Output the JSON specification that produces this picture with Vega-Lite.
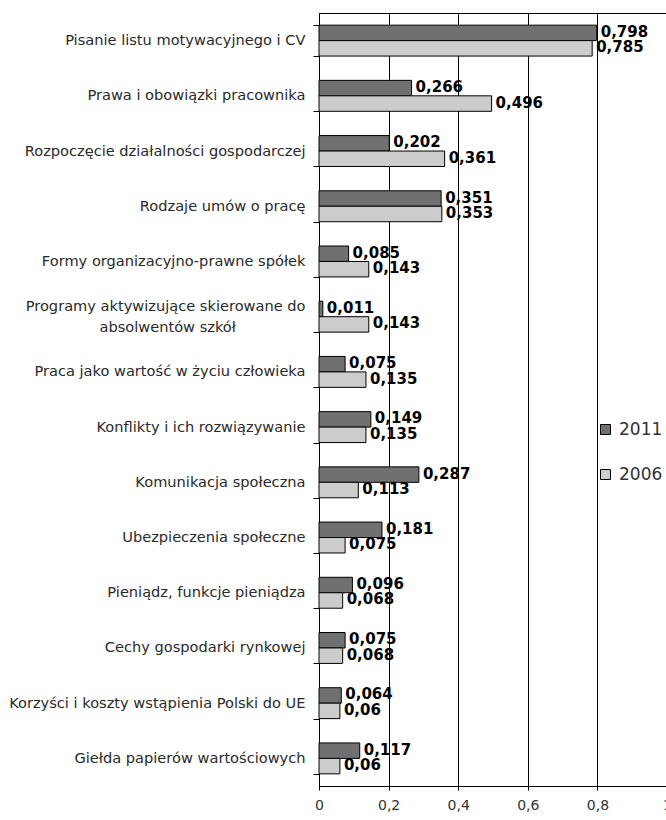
{
  "$schema": "https://vega.github.io/schema/vega-lite/v6.json",
  "autosize": {"type": "none"},
  "padding": {"left": 319, "top": 13, "right": 0, "bottom": 34},
  "width": 348,
  "height": 773,
  "background": "white",
  "data": {
    "values": [
      {"temat": "Pisanie listu motywacyjnego i CV", "rok": "2011", "wartosc": 0.798},
      {"temat": "Pisanie listu motywacyjnego i CV", "rok": "2006", "wartosc": 0.785},
      {"temat": "Prawa i obowiązki pracownika", "rok": "2011", "wartosc": 0.266},
      {"temat": "Prawa i obowiązki pracownika", "rok": "2006", "wartosc": 0.496},
      {"temat": "Rozpoczęcie działalności gospodarczej", "rok": "2011", "wartosc": 0.202},
      {"temat": "Rozpoczęcie działalności gospodarczej", "rok": "2006", "wartosc": 0.361},
      {"temat": "Rodzaje umów o pracę", "rok": "2011", "wartosc": 0.351},
      {"temat": "Rodzaje umów o pracę", "rok": "2006", "wartosc": 0.353},
      {"temat": "Formy organizacyjno-prawne spółek", "rok": "2011", "wartosc": 0.085},
      {"temat": "Formy organizacyjno-prawne spółek", "rok": "2006", "wartosc": 0.143},
      {"temat": "Programy aktywizujące skierowane do absolwentów szkół", "rok": "2011", "wartosc": 0.011},
      {"temat": "Programy aktywizujące skierowane do absolwentów szkół", "rok": "2006", "wartosc": 0.143},
      {"temat": "Praca jako wartość w życiu człowieka", "rok": "2011", "wartosc": 0.075},
      {"temat": "Praca jako wartość w życiu człowieka", "rok": "2006", "wartosc": 0.135},
      {"temat": "Konflikty i ich rozwiązywanie", "rok": "2011", "wartosc": 0.149},
      {"temat": "Konflikty i ich rozwiązywanie", "rok": "2006", "wartosc": 0.135},
      {"temat": "Komunikacja społeczna", "rok": "2011", "wartosc": 0.287},
      {"temat": "Komunikacja społeczna", "rok": "2006", "wartosc": 0.113},
      {"temat": "Ubezpieczenia społeczne", "rok": "2011", "wartosc": 0.181},
      {"temat": "Ubezpieczenia społeczne", "rok": "2006", "wartosc": 0.075},
      {"temat": "Pieniądz, funkcje pieniądza", "rok": "2011", "wartosc": 0.096},
      {"temat": "Pieniądz, funkcje pieniądza", "rok": "2006", "wartosc": 0.068},
      {"temat": "Cechy gospodarki rynkowej", "rok": "2011", "wartosc": 0.075},
      {"temat": "Cechy gospodarki rynkowej", "rok": "2006", "wartosc": 0.068},
      {"temat": "Korzyści i koszty wstąpienia Polski do UE", "rok": "2011", "wartosc": 0.064},
      {"temat": "Korzyści i koszty wstąpienia Polski do UE", "rok": "2006", "wartosc": 0.06},
      {"temat": "Giełda papierów wartościowych", "rok": "2011", "wartosc": 0.117},
      {"temat": "Giełda papierów wartościowych", "rok": "2006", "wartosc": 0.06}
    ]
  },
  "encoding": {
    "y": {
      "field": "temat",
      "type": "nominal",
      "sort": null,
      "scale": {"paddingInner": 0.44, "paddingOuter": 0.22},
      "axis": {
        "title": null,
        "tickBand": "extent",
        "tickSize": 6,
        "tickColor": "black",
        "domainColor": "black",
        "labelPadding": 8,
        "labelFont": "DejaVu Sans",
        "labelFontSize": 14.6,
        "labelColor": "#2a2a2a",
        "labelLimit": 0,
        "labelLineHeight": 21,
        "labelOffset": {"condition": {"test": "datum.value == 'Programy aktywizujące skierowane do absolwentów szkół'", "value": -10}, "value": 0},
        "labelExpr": "datum.value == 'Programy aktywizujące skierowane do absolwentów szkół' ? ['Programy aktywizujące skierowane do', 'absolwentów szkół\u00a0\u00a0\u00a0\u00a0\u00a0\u00a0\u00a0\u00a0\u00a0\u00a0\u00a0\u00a0\u00a0\u00a0\u00a0\u200b'] : datum.value"
      }
    },
    "yOffset": {"field": "rok", "type": "nominal", "sort": ["2011", "2006"]},
    "x": {
      "field": "wartosc",
      "type": "quantitative",
      "scale": {"domain": [0, 1], "nice": false},
      "axis": {
        "title": null,
        "values": [0, 0.2, 0.4, 0.6, 0.8, 1],
        "format": ".1~f",
        "grid": true,
        "gridColor": "black",
        "gridOpacity": 1,
        "gridWidth": 1,
        "tickColor": "black",
        "tickSize": 4,
        "domainColor": "black",
        "labelFont": "DejaVu Sans",
        "labelFontSize": 14,
        "labelColor": "#333333",
        "labelPadding": 8,
        "labelFlush": false
      }
    }
  },
  "layer": [
    {
      "mark": {"type": "bar", "stroke": "black", "strokeWidth": 1},
      "encoding": {
        "color": {
          "field": "rok",
          "type": "nominal",
          "sort": ["2011", "2006"],
          "scale": {"domain": ["2011", "2006"], "range": ["#707070", "#cccccc"]},
          "legend": {
            "title": null,
            "orient": "none",
            "legendX": 278,
            "legendY": 408,
            "symbolType": "square",
            "symbolSize": 100,
            "symbolStrokeColor": "black",
            "symbolStrokeWidth": 1,
            "labelFont": "DejaVu Sans",
            "labelFontSize": 17,
            "labelColor": "#333333",
            "rowPadding": 27,
            "labelOffset": 5
          }
        }
      }
    },
    {
      "mark": {"type": "text", "align": "left", "baseline": "middle", "dx": 4, "dy": -1, "font": "DejaVu Sans", "fontSize": 15, "fontWeight": "bold", "color": "black"},
      "encoding": {
        "text": {"field": "wartosc", "type": "quantitative", "format": ".3~f"}
      }
    }
  ],
  "config": {
    "font": "DejaVu Sans",
    "locale": {
      "number": {"decimal": ",", "thousands": " ", "grouping": [3], "currency": ["", " zł"]}
    },
    "view": {"stroke": "black", "strokeWidth": 1}
  }
}
